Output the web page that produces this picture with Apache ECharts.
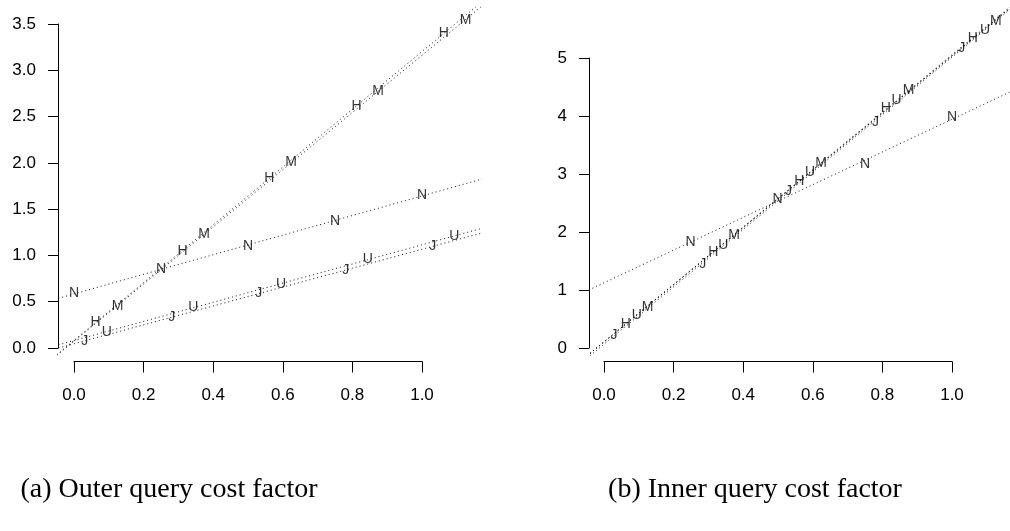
<!DOCTYPE html>
<html>
<head>
<meta charset="utf-8">
<script src="https://cdn.jsdelivr.net/npm/echarts@6/dist/echarts.min.js"></script>
<style>
html,body{margin:0;padding:0;background:#fff;}
#chart{width:1010px;height:531px;}
</style>
</head>
<body>
<div id="chart"></div>
<script>
// ---- data ----
const letters = ['N', 'J', 'H', 'U', 'M'];
const xTicks = [0, 0.2, 0.4, 0.6, 0.8, 1.0];
const outerYTicks = [0, 0.5, 1.0, 1.5, 2.0, 2.5, 3.0, 3.5];
const innerYTicks = [0, 1, 2, 3, 4, 5];
const captions = ['(a) Outer query cost factor', '(b) Inner query cost factor'];

const outerN = [[0.000,0.590],[0.250,0.850],[0.500,1.105],[0.750,1.371],[1.000,1.652]];
const outerJ = [[0.031,0.079],[0.281,0.330],[0.531,0.590],[0.781,0.840],[1.031,1.100]];
const outerH = [[0.062,0.284],[0.312,1.047],[0.561,1.830],[0.812,2.613],[1.063,3.405]];
const outerU = [[0.094,0.176],[0.343,0.440],[0.595,0.690],[0.844,0.957],[1.093,1.210]];
const outerM = [[0.125,0.454],[0.374,1.230],[0.624,2.005],[0.874,2.780],[1.125,3.540]];

const innerN = [[0.249,1.830],[0.499,2.560],[0.750,3.170],[1.000,3.980]];
const innerJ = [[0.029,0.224],[0.284,1.450],[0.530,2.700],[0.780,3.900],[1.028,5.170]];
const innerH = [[0.063,0.414],[0.314,1.660],[0.561,2.885],[0.810,4.130],[1.060,5.340]];
const innerU = [[0.094,0.569],[0.343,1.776],[0.592,3.040],[0.841,4.280],[1.095,5.480]];
const innerM = [[0.125,0.710],[0.374,1.950],[0.624,3.190],[0.875,4.440],[1.126,5.640]];

const outerSets = [outerN, outerJ, outerH, outerU, outerM];
const innerSets = [innerN, innerJ, innerH, innerU, innerM];

// least-squares fit line
function fit(pts) {
  const n = pts.length;
  let mx = 0, my = 0;
  pts.forEach(p => { mx += p[0]; my += p[1]; });
  mx /= n; my /= n;
  let sxy = 0, sxx = 0;
  pts.forEach(p => { sxy += (p[0]-mx)*(p[1]-my); sxx += (p[0]-mx)*(p[0]-mx); });
  const b = sxy / sxx;
  return [my - b*mx, b];
}
function lineData(pts) {
  const ab = fit(pts);
  return [[-0.2, ab[0] + ab[1]*(-0.2)], [1.4, ab[0] + ab[1]*1.4]];
}

const tickFont = 'Liberation Sans, Arial, sans-serif';
const hidden = {show:false};

function visAxisX(gridIndex) {
  return {
    type:'value', gridIndex, min:0, max:1, interval:0.2,
    axisLine:{show:true, lineStyle:{color:'#000', width:1}},
    axisTick:{show:true, length:11, lineStyle:{color:'#000', width:1}},
    axisLabel:{show:true, margin:25, fontSize:17, color:'#000', fontFamily:tickFont,
      formatter: v => v.toFixed(1)},
    splitLine:hidden
  };
}
function visAxisY(gridIndex, max, interval, dec) {
  return {
    type:'value', gridIndex, min:0, max, interval,
    axisLine:{show:true, lineStyle:{color:'#000', width:1}},
    axisTick:{show:true, length:10, lineStyle:{color:'#000', width:1}},
    axisLabel:{show:true, margin:22, fontSize:17, color:'#000', fontFamily:tickFont,
      padding:[6,0,0,0], formatter: v => v.toFixed(dec)},
    splitLine:hidden
  };
}
function hidAxis(gridIndex, min, max) {
  return {type:'value', gridIndex, min, max, show:false, splitLine:hidden};
}

const grids = [
  // panel a: data, x-axis, y-axis
  {left:58, top:7, width:423, height:354.5},
  {left:74, top:300, width:348, height:61.5},
  {left:58, top:24, width:100, height:324},
  // panel b
  {left:589, top:8, width:421, height:353.5},
  {left:604, top:300, width:348, height:61.5},
  {left:589, top:58, width:100, height:290}
].map(g => Object.assign({outerBoundsMode:'none', containLabel:false, show:false}, g));

const xAxes = [
  hidAxis(0, (58-74)/348, (481-74)/348),
  visAxisX(1),
  hidAxis(2, 0, 1),
  hidAxis(3, (589-604)/348, (1010-604)/348),
  visAxisX(4),
  hidAxis(5, 0, 1)
];
const yAxes = [
  hidAxis(0, -(361.5-348)/92.57, (348-7)/92.57),
  hidAxis(1, 0, 1),
  visAxisY(2, 3.5, 0.5, 1),
  hidAxis(3, -(361.5-348)/58, (348-8)/58),
  hidAxis(4, 0, 1),
  visAxisY(5, 5, 1, 0)
];

const series = [];
function addPanel(sets, gi) {
  sets.forEach((pts, i) => {
    series.push({
      type:'line', xAxisIndex:gi, yAxisIndex:gi, data:lineData(pts),
      symbol:'none', clip:true, silent:true, animation:false,
      lineStyle:{color:'#111', width:1, type:[1,3]}
    });
  });
  sets.forEach((pts, i) => {
    series.push({
      type:'scatter', name:letters[i], xAxisIndex:gi, yAxisIndex:gi, data:pts,
      symbolSize:1, itemStyle:{color:'rgba(0,0,0,0)'}, animation:false, silent:true,
      label:{show:true, position:'inside', formatter:letters[i], fontSize:14,
        color:'#000', fontFamily:tickFont}
    });
  });
}
addPanel(outerSets, 0);
addPanel(innerSets, 3);

const chart = echarts.init(document.getElementById('chart'), null, {renderer:'canvas'});
chart.setOption({
  backgroundColor:'#fff',
  animation:false,
  grid:grids,
  xAxis:xAxes,
  yAxis:yAxes,
  series:series,
  graphic:[
    {type:'text', style:{text:captions[0], x:169, y:490, textAlign:'center', textVerticalAlign:'middle',
      font:'28px "Liberation Serif", "Times New Roman", serif', fill:'#000'}},
    {type:'text', style:{text:captions[1], x:755, y:490, textAlign:'center', textVerticalAlign:'middle',
      font:'28px "Liberation Serif", "Times New Roman", serif', fill:'#000'}}
  ]
});
</script>
</body>
</html>
